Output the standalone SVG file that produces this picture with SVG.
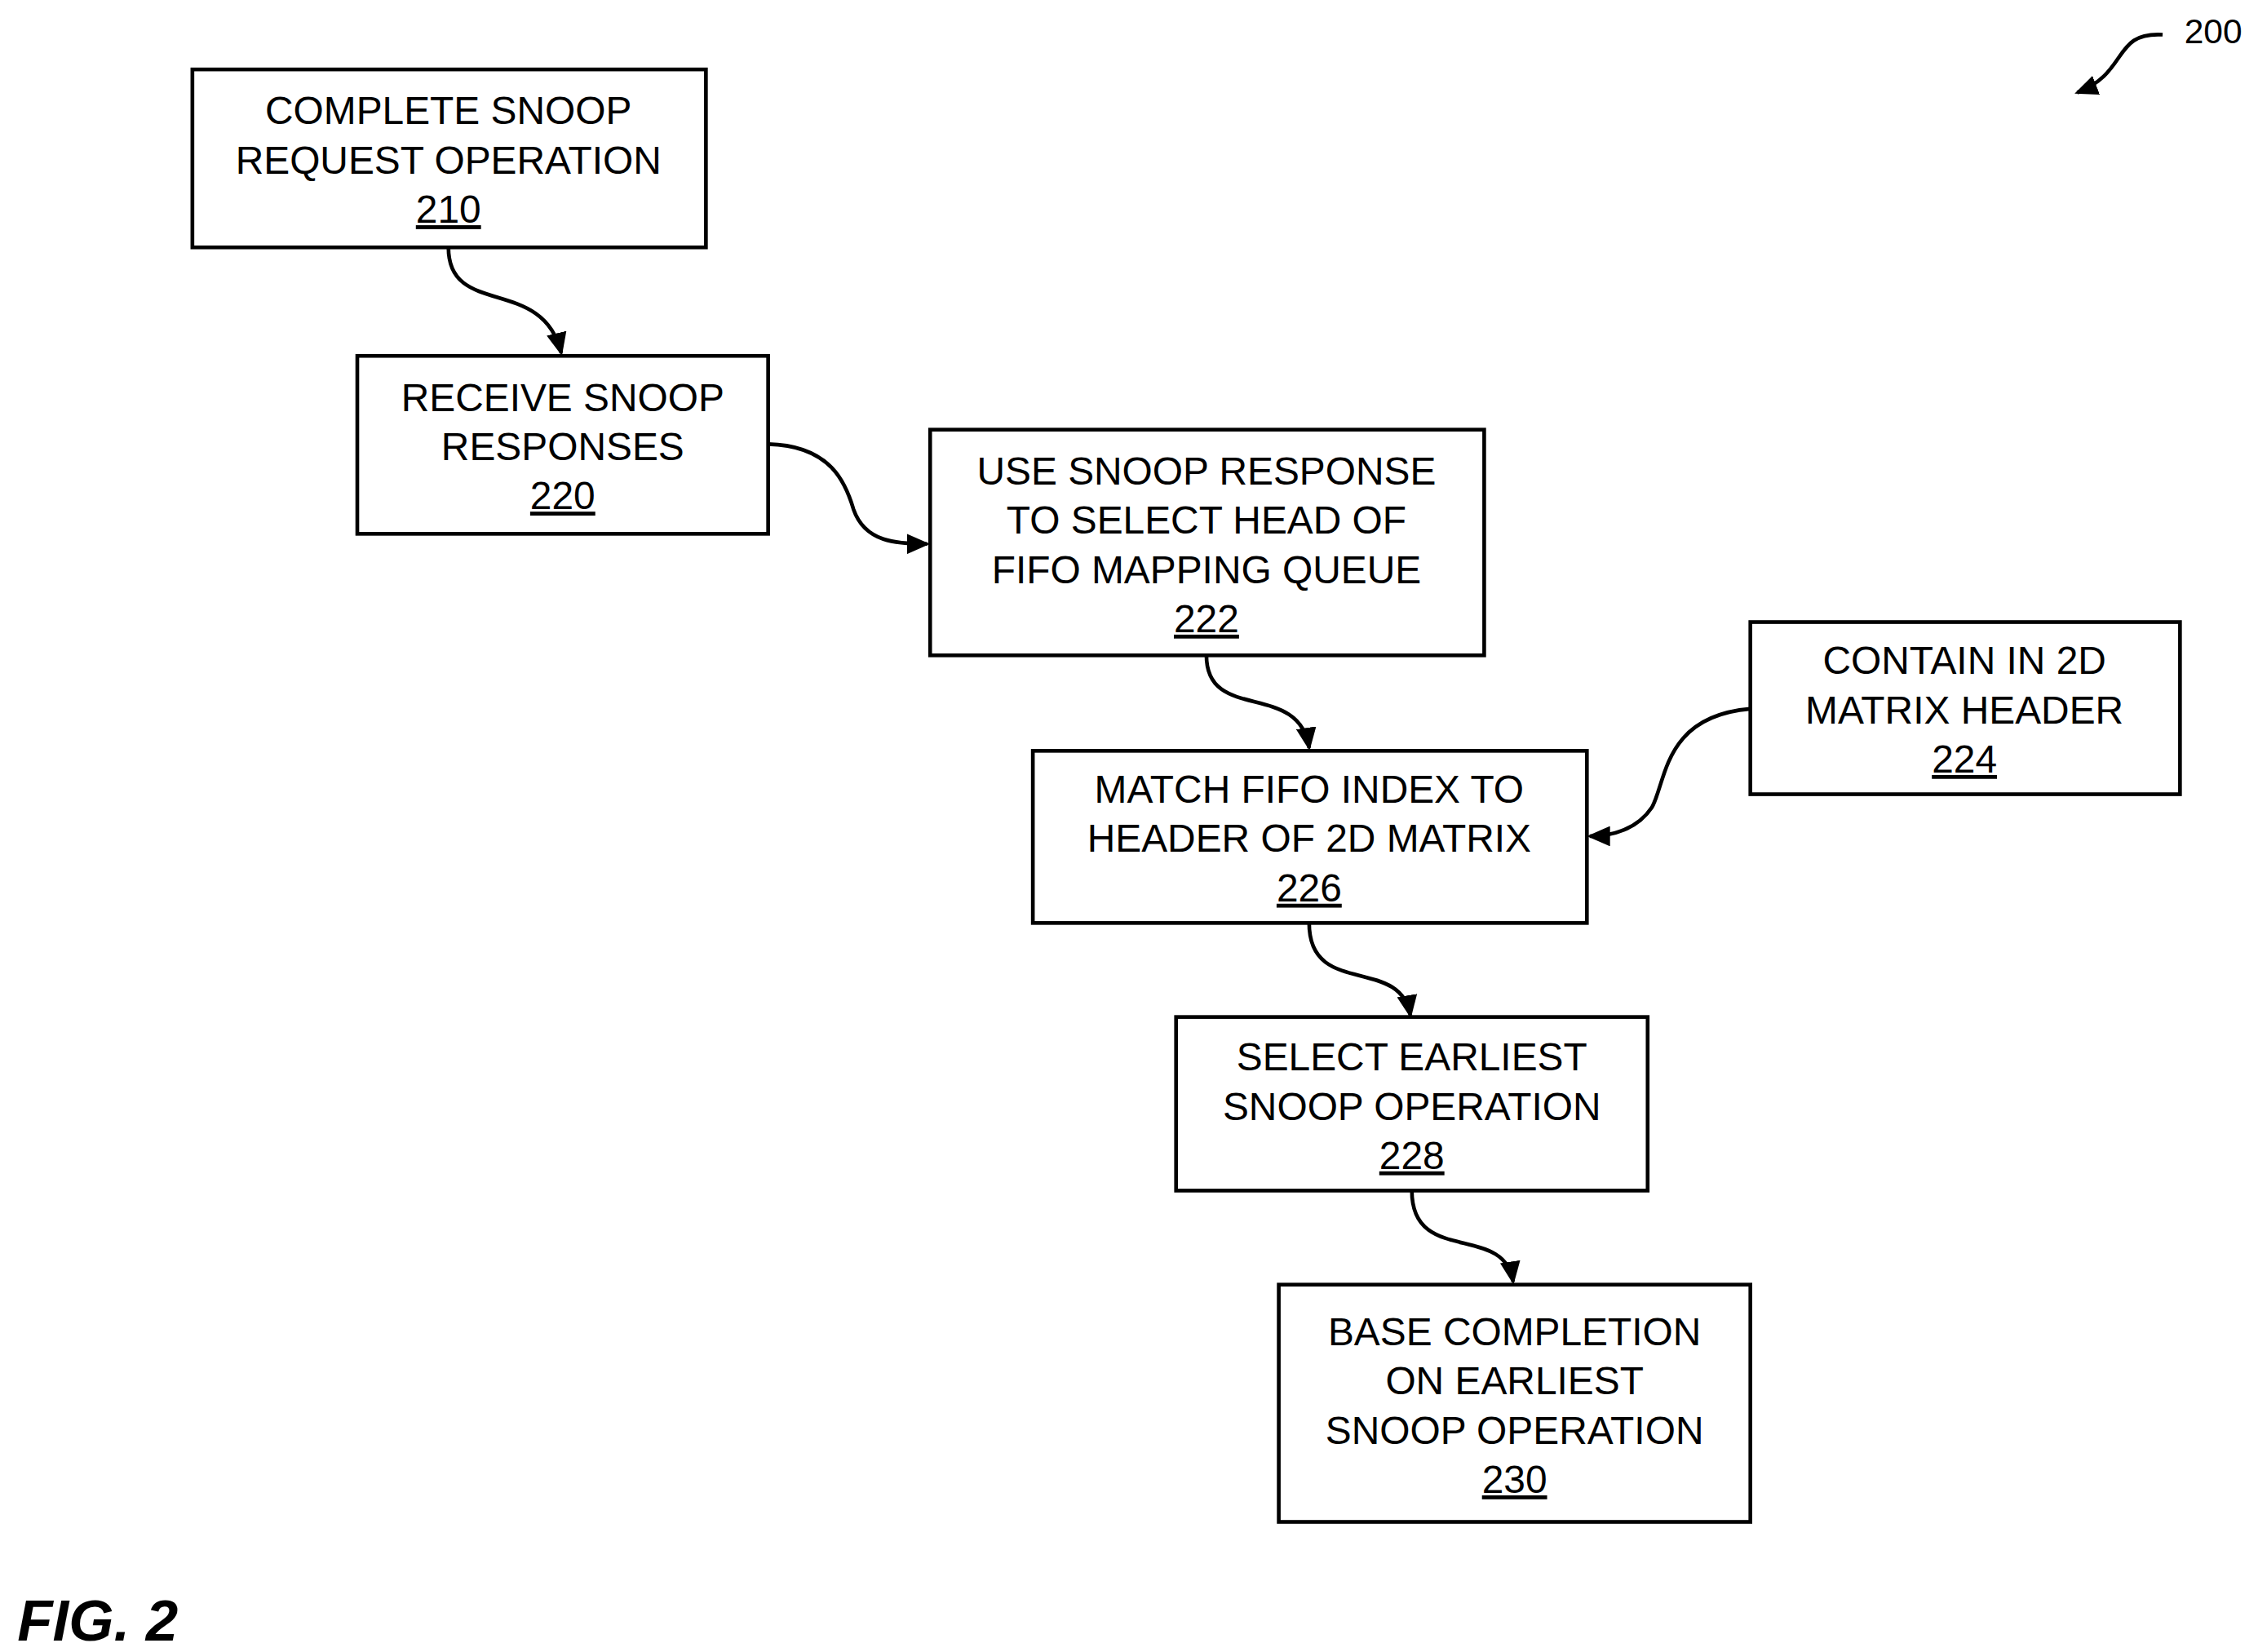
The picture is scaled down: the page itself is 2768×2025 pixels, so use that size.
<svg xmlns="http://www.w3.org/2000/svg" width="2768" height="2025" viewBox="0 0 2768 2025">
<style>
.b{fill:#fff;stroke:#000;stroke-width:2.6}
.t{font-family:"Liberation Sans",Arial,sans-serif;font-size:27px;text-anchor:middle;fill:#000}
.u{text-decoration:underline}
.c{fill:none;stroke:#000;stroke-width:2.6}
</style>
<defs><marker id="a" markerUnits="userSpaceOnUse" markerWidth="16" markerHeight="14" refX="14" refY="7" orient="auto"><path d="M0,0L16,7L0,14z" fill="#000"/></marker></defs>
<rect width="2768" height="2025" fill="#fff"/>
<g transform="scale(1.7733)">
<g id="n210"><rect class="b" x="133" y="48" width="355" height="123"/><text class="t" x="310" y="86">COMPLETE SNOOP</text><text class="t" x="310" y="120">REQUEST OPERATION</text><text class="t u" x="310" y="154">210</text></g>
<g id="n220"><rect class="b" x="247" y="246" width="284" height="123"/><text class="t" x="389" y="284">RECEIVE SNOOP</text><text class="t" x="389" y="318">RESPONSES</text><text class="t u" x="389" y="352">220</text></g>
<g id="n222"><rect class="b" x="643" y="297" width="383" height="156"/><text class="t" x="834" y="335">USE SNOOP RESPONSE</text><text class="t" x="834" y="369">TO SELECT HEAD OF</text><text class="t" x="834" y="403">FIFO MAPPING QUEUE</text><text class="t u" x="834" y="437">222</text></g>
<g id="n224"><rect class="b" x="1210" y="430" width="297" height="119"/><text class="t" x="1358" y="466">CONTAIN IN 2D</text><text class="t" x="1358" y="500">MATRIX HEADER</text><text class="t u" x="1358" y="534">224</text></g>
<g id="n226"><rect class="b" x="714" y="519" width="383" height="119"/><text class="t" x="905" y="555">MATCH FIFO INDEX TO</text><text class="t" x="905" y="589">HEADER OF 2D MATRIX</text><text class="t u" x="905" y="623">226</text></g>
<g id="n228"><rect class="b" x="813" y="703" width="326" height="120"/><text class="t" x="976" y="740">SELECT EARLIEST</text><text class="t" x="976" y="774">SNOOP OPERATION</text><text class="t u" x="976" y="808">228</text></g>
<g id="n230"><rect class="b" x="884" y="888" width="326" height="164"/><text class="t" x="1047" y="930">BASE COMPLETION</text><text class="t" x="1047" y="964">ON EARLIEST</text><text class="t" x="1047" y="998">SNOOP OPERATION</text><text class="t u" x="1047" y="1032">230</text></g>
<g id="connectors">
<path class="c" marker-end="url(#a)" d="M310,171 C310,220 375,190 388,244"/>
<path class="c" marker-end="url(#a)" d="M531,307 C575,308 585,335 590,352 C598,375 620,376 641,376"/>
<path class="c" marker-end="url(#a)" d="M834,453 C834,500 898,470 905,517"/>
<path class="c" marker-end="url(#a)" d="M1210,490 C1150,495 1152,540 1142,558 C1132,573 1115,578 1099,578"/>
<path class="c" marker-end="url(#a)" d="M905,638 C905,690 968,660 975,702"/>
<path class="c" marker-end="url(#a)" d="M976,823 C976,875 1040,845 1046,886"/>
<path class="c" marker-end="url(#a)" d="M1495,24 C1460,22 1472,50 1436,64"/>
</g>
<text x="1510" y="30" style="font-family:'Liberation Sans',Arial,sans-serif;font-size:24px">200</text>
<text x="12" y="1134" style="font-family:'Liberation Sans',Arial,sans-serif;font-size:40px;font-weight:bold;font-style:italic">FIG. 2</text>
</g>
</svg>
